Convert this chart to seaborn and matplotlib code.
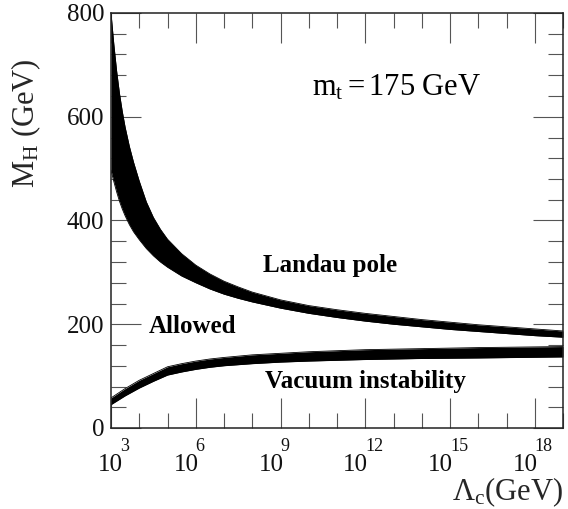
import numpy as np
import pandas as pd
import matplotlib
matplotlib.use('Agg')
import matplotlib.pyplot as plt
import matplotlib.ticker as mticker
import matplotlib.transforms as mtransforms
import seaborn as sns

# ---- data (x given as log10(Lambda_c / GeV), y = M_H in GeV) ----
landau_exp = [3.0, 3.1, 3.2, 3.3, 3.4, 3.5, 3.65, 3.8, 4.0, 4.25, 4.5, 4.75, 5.0, 5.5, 6.0,
              6.5, 7.0, 7.5, 8.0, 9.0, 10, 11, 12, 13, 14, 15, 16, 17, 18, 19]
landau_high = [800, 740, 688, 645, 610, 580, 543, 512, 476, 436, 406, 383, 364, 336, 314,
               297, 283, 272, 262, 247, 236, 228, 221, 215, 209, 204, 199, 195, 191, 187]
landau_low = [497, 475, 455, 437, 422, 409, 392, 378, 363, 346, 332, 320, 310, 293, 280,
              268, 258, 250, 243, 231, 221, 213, 206, 200, 195, 190, 186, 182, 178, 175]

vacuum_exp = [3.0, 3.5, 4.0, 4.5, 5.0, 5.5, 6.0, 6.5, 7.0, 8.0, 9.0, 10, 12, 14, 16, 19]
vacuum_low = [45, 62, 77, 90, 102, 108, 113, 117, 120, 124, 127, 129, 132, 134, 135, 137]
vacuum_high = [58, 76, 92, 105, 118, 124, 129, 133, 136, 141, 144, 147, 151, 153, 155, 157]

xtick_exp = [3, 6, 9, 12, 15, 18]
xminor_exp = [4, 5, 7, 8, 10, 11, 13, 14, 16, 17, 19]
ytick_vals = [0, 200, 400, 600, 800]

# text annotations: (label, log10 x, y)
ann_landau = ("Landau pole", 10.75, 314)
ann_allowed = ("Allowed", 5.87, 196)
ann_vacuum = ("Vacuum instability", 12.0, 89)
ann_mt = (r"$\mathrm{m_t = 175\ GeV}$", 13.1, 655)

# ---- style ----
sns.set_theme(style='ticks')
plt.rcParams['font.family'] = ['Liberation Serif', 'DejaVu Serif']
plt.rcParams['mathtext.fontset'] = 'custom'
plt.rcParams['mathtext.rm'] = 'Liberation Serif'
plt.rcParams['mathtext.it'] = 'Liberation Serif:italic'
plt.rcParams['mathtext.bf'] = 'Liberation Serif:bold'

landau = pd.DataFrame({'L': 10.0 ** np.array(landau_exp), 'lo': landau_low, 'hi': landau_high})
vacuum = pd.DataFrame({'L': 10.0 ** np.array(vacuum_exp), 'lo': vacuum_low, 'hi': vacuum_high})

fig = plt.figure(figsize=(5.68, 5.09), dpi=100)
ax = fig.add_axes([111 / 568, 1 - 428 / 509, (563 - 111) / 568, (428 - 13) / 509])
ax.set_facecolor('white')
ax.set_xscale('log')

for df in (landau, vacuum):
    ax.fill_between(df['L'], df['lo'], df['hi'], color='black', lw=0)
    sns.lineplot(data=df, x='L', y='lo', color='black', lw=0.6, ax=ax)
    sns.lineplot(data=df, x='L', y='hi', color='black', lw=0.6, ax=ax)

ax.set_xlim(1e3, 1e19)
ax.set_ylim(0, 800)

ax.xaxis.set_major_locator(mticker.FixedLocator([10.0 ** e for e in xtick_exp]))
ax.xaxis.set_minor_locator(mticker.FixedLocator([10.0 ** e for e in xminor_exp]))
ax.xaxis.set_major_formatter(mticker.FixedFormatter(['10'] * len(xtick_exp)))
ax.xaxis.set_minor_formatter(mticker.NullFormatter())
ax.yaxis.set_major_locator(mticker.FixedLocator(ytick_vals))
ax.yaxis.set_minor_locator(mticker.MultipleLocator(40))
ax.yaxis.set_major_formatter(mticker.FixedFormatter([str(v) for v in ytick_vals]))

ax.tick_params(which='both', direction='in', top=True, right=True, color='#555555',
               width=0.8, labelsize=18, labelcolor='#111111')
ax.tick_params(which='major', length=21.5)
ax.tick_params(which='minor', length=10.8)
ax.tick_params(axis='x', which='major', pad=19)
ax.tick_params(axis='y', which='major', pad=5)

# "10" right-aligned just past each tick (first one nudged inside the frame, as in the reference)
label_shift_px = [12, 3, 3, 3, 3, 3]
for t, sh in zip(ax.xaxis.get_major_ticks(), label_shift_px):
    t.label1.set_horizontalalignment('right')
    t.label1.set_transform(t.label1.get_transform() +
                           mtransforms.ScaledTranslation(sh / 100, 0, fig.dpi_scale_trans))

# exponents of the x tick labels, raised above the "10"
base_trans = mtransforms.blended_transform_factory(ax.transData, ax.transAxes)
for e, sh in zip(xtick_exp, label_shift_px):
    tr = base_trans + mtransforms.ScaledTranslation((sh - 3) / 100, 0, fig.dpi_scale_trans)
    ax.text(10.0 ** e, -0.064, str(e), transform=tr, fontsize=13,
            ha='left', va='bottom', color='#111111', clip_on=False)

for s in ax.spines.values():
    s.set_visible(True)
    s.set_color('#222222')
    s.set_linewidth(1.1)

ax.set_xlabel('Λ$_\\mathrm{c}$(GeV)', fontsize=22, ha='right')
ax.xaxis.set_label_coords(1.0, -0.115)
ax.set_ylabel('M$_\\mathrm{H}$ (GeV)', fontsize=22)
ax.yaxis.set_label_coords(-0.15, 0.735)

for txt, lx, y in (ann_landau, ann_allowed, ann_vacuum):
    ax.text(10.0 ** lx, y, txt, fontsize=18, fontweight='bold', ha='center', va='center', color='black')
ax.text(10.0 ** ann_mt[1], ann_mt[2], ann_mt[0], fontsize=22, ha='center', va='center', color='black')

fig.savefig('out.png', dpi=100, facecolor='white')
